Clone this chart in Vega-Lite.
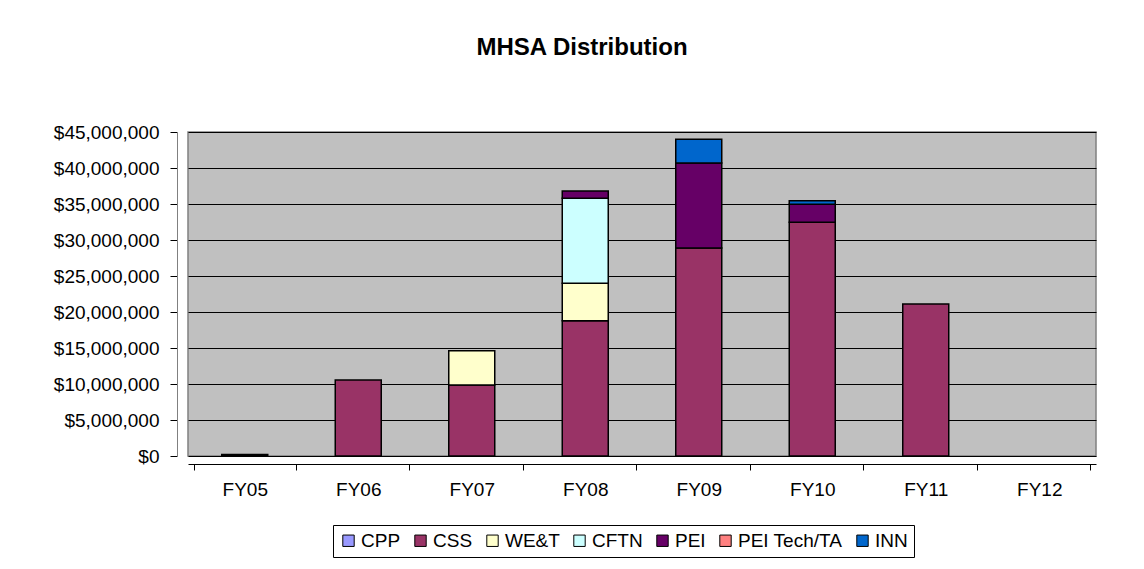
{
  "$schema": "https://vega.github.io/schema/vega-lite/v6.json",
  "autosize": "none",
  "padding": {"left": 188, "top": 132, "right": 48, "bottom": 113},
  "width": 908,
  "height": 324,
  "background": "white",
  "title": {
    "text": "MHSA Distribution",
    "fontSize": 24,
    "fontWeight": "bold",
    "font": "Liberation Sans",
    "color": "black",
    "anchor": "middle",
    "dx": -60,
    "baseline": "alphabetic",
    "offset": 44
  },
  "data": {
    "values": [
      {"year": "FY05", "program": "CPP", "rank": 1, "amount": 200000},
      {"year": "FY06", "program": "CSS", "rank": 2, "amount": 10550000},
      {"year": "FY07", "program": "CSS", "rank": 2, "amount": 9860000},
      {"year": "FY07", "program": "WE&T", "rank": 3, "amount": 4760000},
      {"year": "FY08", "program": "CSS", "rank": 2, "amount": 18800000},
      {"year": "FY08", "program": "WE&T", "rank": 3, "amount": 5200000},
      {"year": "FY08", "program": "CFTN", "rank": 4, "amount": 11800000},
      {"year": "FY08", "program": "PEI", "rank": 5, "amount": 1000000},
      {"year": "FY09", "program": "CSS", "rank": 2, "amount": 28900000},
      {"year": "FY09", "program": "PEI", "rank": 5, "amount": 11800000},
      {"year": "FY09", "program": "INN", "rank": 7, "amount": 3300000},
      {"year": "FY10", "program": "CSS", "rank": 2, "amount": 32450000},
      {"year": "FY10", "program": "PEI", "rank": 5, "amount": 2500000},
      {"year": "FY10", "program": "INN", "rank": 7, "amount": 500000},
      {"year": "FY11", "program": "CSS", "rank": 2, "amount": 21100000}
    ]
  },
  "mark": {"type": "bar", "size": 46, "stroke": "black", "strokeWidth": 1.5},
  "encoding": {
    "x": {
      "field": "year",
      "type": "nominal",
      "scale": {"domain": ["FY05", "FY06", "FY07", "FY08", "FY09", "FY10", "FY11", "FY12"]},
      "axis": {
        "title": null,
        "labelAngle": 0,
        "labelFontSize": 19,
        "labelFont": "Liberation Sans",
        "labelColor": "black",
        "labelDx": -11,
        "offset": 8,
        "tickSize": 6,
        "tickBand": "extent",
        "tickColor": "black",
        "domainColor": "black",
        "labelPadding": 10
      }
    },
    "y": {
      "field": "amount",
      "type": "quantitative",
      "aggregate": "sum",
      "stack": "zero",
      "scale": {"domain": [0, 45000000], "nice": false},
      "axis": {
        "title": null,
        "format": "$,.0f",
        "values": [0, 5000000, 10000000, 15000000, 20000000, 25000000, 30000000, 35000000, 40000000, 45000000],
        "labelFontSize": 19,
        "labelFont": "Liberation Sans",
        "labelColor": "black",
        "offset": 11,
        "tickSize": 7,
        "tickColor": "black",
        "labelPadding": 11,
        "domainColor": "#808080",
        "gridColor": "black",
        "gridWidth": 1
      }
    },
    "color": {
      "field": "program",
      "type": "nominal",
      "scale": {
        "domain": ["CPP", "CSS", "WE&T", "CFTN", "PEI", "PEI Tech/TA", "INN"],
        "range": ["#9999FF", "#993366", "#FFFFCC", "#CCFFFF", "#660066", "#FF8080", "#0066CC"]
      },
      "legend": {
        "title": null,
        "orient": "none",
        "legendX": 145,
        "legendY": 393,
        "direction": "horizontal",
        "columns": 7,
        "columnPadding": 10,
        "symbolType": "square",
        "symbolSize": 130,
        "symbolStrokeColor": "black",
        "symbolStrokeWidth": 1,
        "symbolOpacity": 1,
        "labelFontSize": 19,
        "labelFont": "Liberation Sans",
        "labelColor": "black",
        "labelOffset": 3,
        "strokeColor": "black",
        "padding": 6
      }
    },
    "order": {"field": "rank", "type": "quantitative", "sort": "ascending"}
  },
  "config": {
    "view": {"fill": "#C0C0C0", "stroke": "#808080", "strokeWidth": 1.5},
    "axis": {"grid": true},
    "axisX": {"grid": false}
  }
}
